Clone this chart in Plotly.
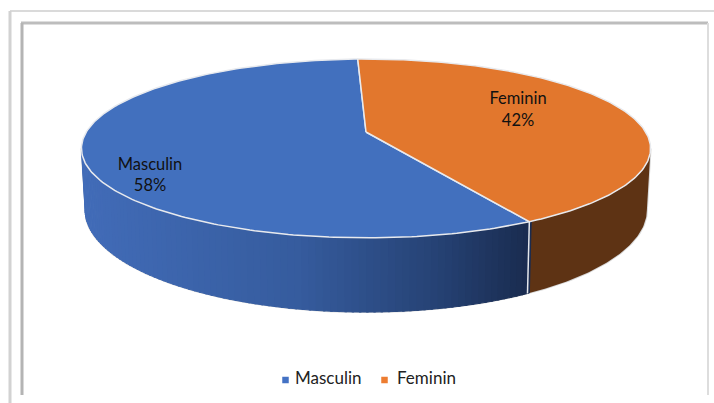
import numpy as np
import plotly.graph_objects as go

categories = ["Masculin", "Feminin"]
values = [57.6, 42.4]
top_colors = ["#4270BE", "#E2772D"]
side_dark = "#5E3314"
legend_colors = ["#4472C4", "#ED7D31"]
first_angle = -2.0  # boundary near 12 o'clock, Feminin runs clockwise from it

W, H = 714, 403
CX = 366.0


def project(theta_deg, plane):
    """Circle angle (clockwise from the back) to page position, with perspective."""
    A, B, C, D = plane
    t = np.radians(theta_deg)
    u, v = np.sin(t), -np.cos(t)
    den = 1 + C * v
    return CX + D * u / den, (A * v + B) / den


TOP = (62.1, 132.0, -0.184, 279.7)
BOT = (63.0, 191.0, -0.186, 276.0)
RIM_R = 100.6   # angle where the outline is widest, right
RIM_L = 259.4   # angle where the outline is widest, left

total = sum(values)
fem_sweep = 360 * values[1] / total
a0 = first_angle
a1 = first_angle + fem_sweep
a2 = first_angle + 360


def mix(c0, c1, f):
    return tuple(c0[i] + (c1[i] - c0[i]) * f for i in range(3))


def blue_side(x):
    stops = [(85, (66, 108, 184)), (300, (54, 92, 158)), (440, (38, 66, 116)), (530, (26, 44, 80))]
    for (x0, c0), (x1, c1) in zip(stops, stops[1:]):
        if x <= x1:
            c = mix(c0, c1, max(0, (x - x0) / (x1 - x0)))
            break
    else:
        c = stops[-1][1]
    return "rgb(%d,%d,%d)" % c


fig = go.Figure()


def poly(xs, ys, fill, line=None, width=0):
    fig.add_trace(go.Scatter(x=list(xs), y=list(ys), mode="lines", fill="toself",
                             fillcolor=fill,
                             line=dict(color=line or fill, width=width),
                             hoverinfo="skip", showlegend=False))


def line(xs, ys, color, width):
    fig.add_trace(go.Scatter(x=list(xs), y=list(ys), mode="lines",
                             line=dict(color=color, width=width),
                             hoverinfo="skip", showlegend=False))


# Silhouette of the wall
sx, sy = project(np.linspace(RIM_L, RIM_R, 240), BOT)
tx0, ty0 = project(RIM_L, TOP)
tx1, ty1 = project(RIM_R, TOP)
line(np.r_[tx0, sx, tx1], np.r_[ty0, sy, ty1], "#D8D8D8", 2)

# Side wall, Feminin (brown): from the seam counter-clockwise to the right rim
th = np.linspace(a1, RIM_R, 80)
tx, ty = project(th, TOP)
bx, by = project(th, BOT)
poly(np.r_[tx, bx[::-1]], np.r_[ty, by[::-1]], side_dark)

# Side wall, Masculin (blue gradient, left rim to seam)
edges = np.linspace(RIM_L, a1, 90)
for e0, e1 in zip(edges[:-1], edges[1:]):
    th = np.linspace(e0, e1 - 0.4, 4)
    tx, ty = project(th, TOP)
    bx, by = project(th, BOT)
    c = blue_side(float(np.mean(tx)))
    poly(np.r_[tx, bx[::-1]], np.r_[ty, by[::-1]], c, c, 1)

# Seam between side walls
sx0, sy0 = project(a1, TOP)
sx1, sy1 = project(a1, BOT)
line([sx0, sx1], [sy0, sy1], "#E4E7EC", 1.5)

# Top faces
apx, apy = CX, TOP[1]

th = np.linspace(a1, a2, 240)
x, y = project(th, TOP)
poly(np.r_[apx, x, apx], np.r_[apy, y, apy], top_colors[0], "#E8EAEE", 1.5)

th = np.linspace(a0, a1, 180)
x, y = project(th, TOP)
poly(np.r_[apx, x, apx], np.r_[apy, y, apy], top_colors[1], "#E8EAEE", 1.5)

# Slice labels
pct = [f"{round(100 * v / total)}%" for v in values]
fig.add_trace(go.Scatter(
    x=[150, 518], y=[176.5, 111], mode="text",
    text=[f"{c}<br>{p}" for c, p in zip(categories, pct)],
    textfont=dict(family="Lato, Carlito, sans-serif", size=16.5, color="#111111"),
    textposition="middle center", hoverinfo="skip", showlegend=False))

# Legend
fig.add_trace(go.Scatter(
    x=[285.5, 384.5], y=[380, 380], mode="markers",
    marker=dict(symbol="square", size=6.5, color=legend_colors),
    hoverinfo="skip", showlegend=False))
fig.add_trace(go.Scatter(
    x=[295, 397], y=[380, 380], mode="text",
    text=categories, textposition="middle right",
    textfont=dict(family="Lato, Carlito, sans-serif", size=17, color="#222222"),
    hoverinfo="skip", showlegend=False))

# Double picture frame
frame = []
for x0, y0, x1, y1, col, wd in [
    (10, 11, 714, 11, "#DADADA", 2),
    (10, 11, 10, 403, "#D2D2D2", 3),
    (21, 23, 708, 23, "#BDBDBD", 3),
    (22, 23, 22, 395, "#B4B4B4", 3),
    (708, 23, 708, 395, "#DDDDDD", 2),
]:
    frame.append(dict(type="line", xref="x", yref="y", x0=x0, y0=y0, x1=x1, y1=y1,
                      line=dict(color=col, width=wd), layer="below"))

fig.update_layout(
    width=W, height=H, margin=dict(l=0, r=0, t=0, b=0),
    paper_bgcolor="white", plot_bgcolor="white", showlegend=False,
    shapes=frame,
    xaxis=dict(range=[0, W], visible=False, fixedrange=True),
    yaxis=dict(range=[H, 0], visible=False, fixedrange=True),
)
fig.write_html("out.html", config={"displayModeBar": False},
               post_script="document.body.style.margin='0';document.body.style.overflow='hidden';")
